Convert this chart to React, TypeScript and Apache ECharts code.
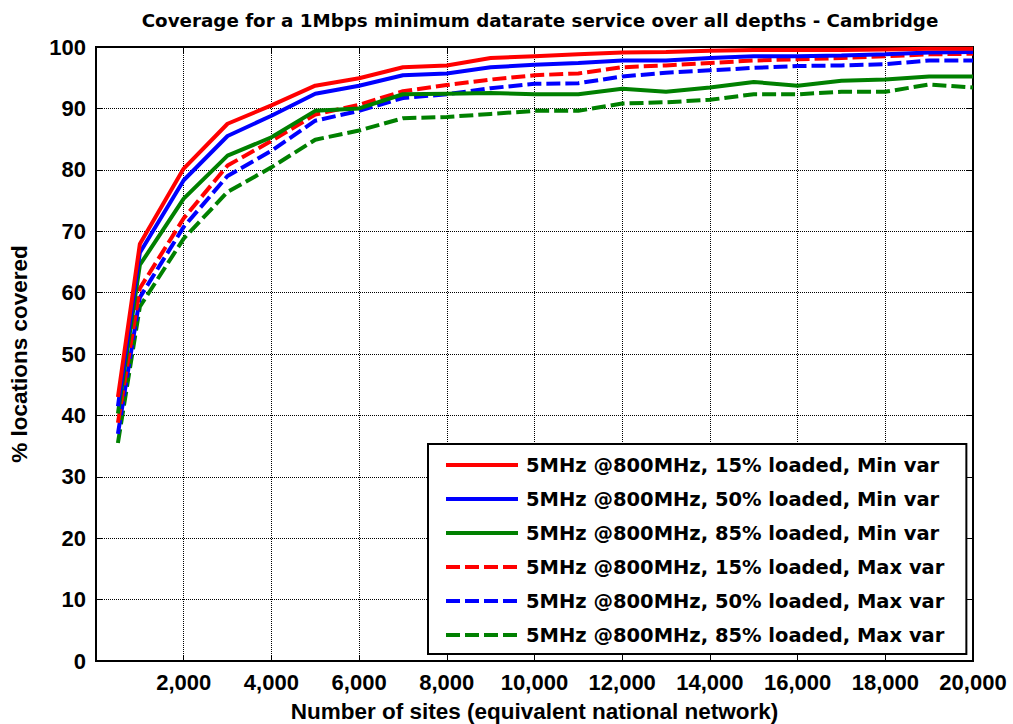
import React, { useEffect, useRef } from "react";
import * as echarts from "echarts";

const sites = [500, 1000, 2000, 3000, 4000, 5000, 6000, 7000, 8000, 9000, 10000, 11000, 12000, 13000, 14000, 15000, 16000, 17000, 18000, 19000, 20000];

const min15 = [43.0, 67.9, 80.2, 87.5, 90.5, 93.7, 94.9, 96.7, 97.0, 98.2, 98.5, 98.8, 99.1, 99.2, 99.4, 99.5, 99.5, 99.5, 99.6, 99.7, 99.7];
const min50 = [41.5, 66.5, 78.3, 85.5, 88.8, 92.4, 93.7, 95.4, 95.7, 96.7, 97.1, 97.4, 97.8, 97.8, 98.2, 98.5, 98.5, 98.6, 98.8, 99.1, 99.2];
const min85 = [40.3, 64.5, 75.3, 82.3, 85.3, 89.6, 90.0, 92.3, 92.4, 92.5, 92.3, 92.3, 93.2, 92.7, 93.4, 94.3, 93.7, 94.5, 94.7, 95.2, 95.2];
const max15 = [38.8, 60.7, 72.1, 80.7, 84.7, 89.0, 90.6, 92.8, 93.8, 94.7, 95.4, 95.7, 96.7, 97.0, 97.4, 97.8, 98.0, 98.2, 98.5, 98.8, 98.9];
const max50 = [37.0, 59.2, 70.7, 79.0, 83.1, 88.0, 89.6, 91.7, 92.3, 93.3, 94.0, 94.1, 95.2, 95.8, 96.2, 96.6, 96.9, 97.0, 97.2, 97.8, 97.8];
const max85 = [35.5, 57.7, 68.8, 76.4, 80.4, 84.9, 86.4, 88.4, 88.6, 89.1, 89.6, 89.6, 90.8, 91.0, 91.4, 92.3, 92.3, 92.7, 92.7, 93.9, 93.4];

const seriesNames = [
  "5MHz @800MHz, 15% loaded, Min var",
  "5MHz @800MHz, 50% loaded, Min var",
  "5MHz @800MHz, 85% loaded, Min var",
  "5MHz @800MHz, 15% loaded, Max var",
  "5MHz @800MHz, 50% loaded, Max var",
  "5MHz @800MHz, 85% loaded, Max var",
];
const seriesValues = [min15, min50, min85, max15, max50, max85];
const seriesColors = ["#ff0000", "#0000ff", "#008000", "#ff0000", "#0000ff", "#008000"];
const seriesDashed = [false, false, false, true, true, true];

const titleText = "Coverage for a 1Mbps minimum datarate service over all depths - Cambridge";
const xName = "Number of sites (equivalent national network)";
const yName = "% locations covered";

export default function App() {
  const ref = useRef<HTMLDivElement>(null);
  useEffect(() => {
    if (!ref.current) return;
    const chart = echarts.init(ref.current, null, { renderer: "svg" });
    const tickFont = {
      fontFamily: "Liberation Sans, Arial, sans-serif",
      fontWeight: "bold" as const,
      fontSize: 22,
      color: "#000",
    };
    const gridLine = { show: true, lineStyle: { color: "#000", width: 1, type: [1, 1] as any } };
    const dash = [14, 5];
    chart.setOption({
      animation: false,
      backgroundColor: "#fff",
      title: {
        text: titleText,
        left: 535,
        top: 6,
        textAlign: "center",
        textStyle: {
          fontFamily: "DejaVu Sans, sans-serif",
          fontWeight: "bold",
          fontSize: 18.3,
          color: "#000",
        },
      },
      grid: {
        left: 96,
        right: 40,
        top: 47,
        bottom: 63,
        containLabel: false,
        outerBoundsMode: "none",
        show: true,
        borderColor: "#000",
        borderWidth: 2,
        backgroundColor: "transparent",
      },
      legend: {
        orient: "vertical",
        left: 428,
        top: 444,
        padding: [11, 22, 9, 16],
        itemWidth: 72,
        itemHeight: 14,
        itemGap: 14,
        backgroundColor: "#fff",
        borderColor: "#000",
        borderWidth: 2,
        borderRadius: 0,
        itemStyle: { opacity: 0 },
        lineStyle: { width: 4 },
        textStyle: {
          fontFamily: "DejaVu Sans, sans-serif",
          fontWeight: "bold",
          fontSize: 19.5,
          color: "#000",
          padding: [0, 0, 0, 3],
        },
        data: seriesNames,
      },
      xAxis: [
        {
          type: "value",
          min: 0,
          max: 20000,
          interval: 2000,
          name: xName,
          nameLocation: "middle",
          nameGap: 39,
          nameTextStyle: { ...tickFont, fontSize: 22.5 },
          axisLine: { show: true, onZero: false, lineStyle: { color: "#000", width: 2 } },
          axisTick: { show: true, inside: true, length: 6, lineStyle: { color: "#000", width: 1 } },
          axisLabel: {
            ...tickFont,
            margin: 10,
            formatter: (v: number) => (v === 0 ? "" : v.toLocaleString("en-US")),
          },
          splitLine: gridLine,
        },
        {
          type: "value",
          position: "top",
          min: 0,
          max: 20000,
          interval: 2000,
          axisLine: { show: true, onZero: false, lineStyle: { color: "#000", width: 2 } },
          axisTick: { show: true, inside: true, length: 6, lineStyle: { color: "#000", width: 1 } },
          axisLabel: { show: false },
          splitLine: { show: false },
        },
      ],
      yAxis: [
        {
          type: "value",
          min: 0,
          max: 100,
          interval: 10,
          name: yName,
          nameLocation: "middle",
          nameGap: 65,
          nameTextStyle: { ...tickFont, fontSize: 22.5 },
          axisLine: { show: true, onZero: false, lineStyle: { color: "#000", width: 2 } },
          axisTick: { show: true, inside: true, length: 6, lineStyle: { color: "#000", width: 1 } },
          axisLabel: { ...tickFont, margin: 10 },
          splitLine: gridLine,
        },
        {
          type: "value",
          position: "right",
          min: 0,
          max: 100,
          interval: 10,
          axisLine: { show: true, onZero: false, lineStyle: { color: "#000", width: 2 } },
          axisTick: { show: true, inside: true, length: 6, lineStyle: { color: "#000", width: 1 } },
          axisLabel: { show: false },
          splitLine: { show: false },
        },
      ],
      series: seriesNames.map((name, i) => ({
        name,
        type: "line",
        xAxisIndex: 0,
        yAxisIndex: 0,
        symbol: "none",
        showSymbol: false,
        color: seriesColors[i],
        lineStyle: {
          color: seriesColors[i],
          width: 4,
          type: seriesDashed[i] ? dash : "solid",
        },
        data: sites.map((x, j) => [x, seriesValues[i][j]]),
        z: 10 - i,
      })),
    });
    return () => chart.dispose();
  }, []);
  return (
    <div
      ref={ref}
      style={{ position: "absolute", left: 0, top: 0, width: 1013, height: 724 }}
    />
  );
}
